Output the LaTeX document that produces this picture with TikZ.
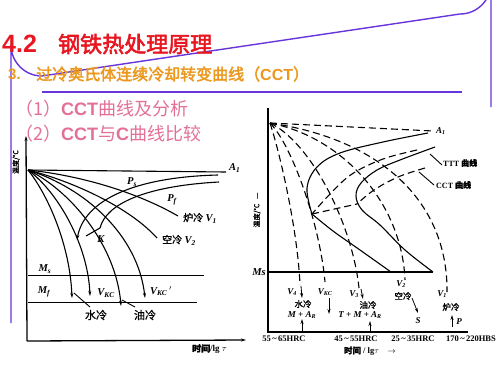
\documentclass[tikz,border=0pt]{standalone}
\usepackage{fontspec}
\setmainfont{Liberation Serif}
\setsansfont{Liberation Sans}
\newfontfamily\cjk{Noto Sans CJK SC}
\newfontfamily\cjkb{Noto Sans CJK SC}[FakeBold=2.5]
\newfontfamily\cjkm{Noto Sans CJK SC}[FakeBold=1.2]
\usetikzlibrary{arrows.meta}
\definecolor{titlered}{RGB}{232,22,32}
\definecolor{suborange}{RGB}{236,152,30}
\definecolor{itempink}{RGB}{228,112,152}
\definecolor{framepurple}{RGB}{104,52,220}
\tikzset{
  frameline/.style={draw=framepurple,line width=1.4pt},
  curve/.style={line width=1.1pt},
  dcurve/.style={line width=1.1pt,dash pattern=on 7pt off 4pt},
  axis/.style={line width=1.3pt},
  lb/.style={font=\fontsize{10.5}{11}\selectfont\bfseries\itshape,inner sep=0pt},
  lbs/.style={font=\fontsize{9}{10}\selectfont\bfseries\itshape,inner sep=0pt},
  cn/.style={font=\cjkm\fontsize{8.5}{9}\selectfont,inner sep=0pt},
  hrc/.style={font=\fontsize{8.5}{9}\selectfont\bfseries,inner sep=0pt},
  tip/.style={-{Stealth[length=5pt,width=3pt]}}
}
\begin{document}
\begin{tikzpicture}[x=1pt,y=-1pt]
\useasboundingbox (0,0) rectangle (500,375);
\fill[white] (0,0) rectangle (500,375);
% frame
\draw[frameline] (11,323) -- (11,45) arc[start angle=180,end angle=90,radius=31] -- (460,14) arc[start angle=90,end angle=0,radius=31] -- (491,107);
% titles
\node[anchor=west,inner sep=0pt,text=titlered,font=\sffamily\bfseries\fontsize{25}{26}\selectfont] (t42) at (2,44) {4.2};
\node[anchor=west,inner sep=0pt,text=titlered,font=\cjkb\fontsize{22}{24}\selectfont] (ttl) at (58,44) {钢铁热处理原理};
\node[anchor=west,inner sep=0pt,text=suborange,font=\sffamily\bfseries\fontsize{15}{16}\selectfont] (s3) at (8,74) {3.};
\node[anchor=west,inner sep=0pt,text=suborange,font=\cjkb\fontsize{16}{17}\selectfont] (sub) at (36,74) {过冷奥氏体连续冷却转变曲线（{\sffamily\bfseries CCT}）};
\coordinate (ul1) at (42,92); \coordinate (ul2) at (462,92);
\draw[frameline] (ul1) -- (ul2);
\node[anchor=west,inner sep=0pt,text=itempink,font=\cjk\fontsize{18}{19}\selectfont] (i1) at (15,109) {（1）{\sffamily\bfseries CCT}曲线及分析};
\node[anchor=west,inner sep=0pt,text=itempink,font=\cjk\fontsize{18}{19}\selectfont] (i2) at (15,134) {（2）{\sffamily\bfseries CCT}与{\sffamily\bfseries C}曲线比较};

% ================= left diagram
\coordinate (LY0) at (27,341); \coordinate (LYt) at (26,136);
\coordinate (LX1) at (246,340);
\draw[axis,tip] (LY0) -- (LYt);
\draw[axis,tip] (LY0) -- (LX1);
\node[rotate=90,inner sep=0pt,font=\cjkm\fontsize{7}{7}\selectfont] (lyl) at (16,162) {温度/℃};
\node[inner sep=0pt,font=\fontsize{9}{9}\selectfont\bfseries,anchor=west] (lxl) at (192,349) {{\cjkm 时间}/lg $\tau$};
\coordinate (O) at (28,170);
\coordinate (A1e) at (226,172);
\draw[curve] (O) -- (A1e);
\node[lb,anchor=west] (lA1) at (229,168) {A\textsubscript{1}};
% cooling curves
\coordinate (v1e) at (178,216);
\coordinate (v2e) at (157,238);
\coordinate (vkcpe) at (145,298);
\coordinate (oile) at (121,306);
\coordinate (vkce) at (90,296);
\coordinate (wate) at (72,298);
\draw[curve] (O) .. controls (85,176) and (140,194) .. (v1e);
\draw[curve] (O) .. controls (75,182) and (130,208) .. (v2e);
\draw[curve,tip] (O) .. controls (85,188) and (138,235) .. (vkcpe);
\draw[curve,tip] (O) .. controls (70,190) and (116,245) .. (oile);
\draw[curve,tip] (O) .. controls (58,192) and (88,245) .. (vkce);
\draw[curve,tip] (O) .. controls (48,195) and (70,245) .. (wate);
% C curves
\coordinate (ps0) at (218,175); \coordinate (ps1) at (77,240);
\coordinate (pf0) at (219,182); \coordinate (pf1) at (100,228);
\draw[curve,tip] (ps0) .. controls (135,177) and (84,200) .. (ps1);
\draw[curve] (pf0) .. controls (145,186) and (106,204) .. (pf1);
\draw[curve] (pf1) -- (86,236);
\node[lb] (lK) at (101,239) {K};
\node[lb] (lPs) at (132,182) {P\textsubscript{s}};
\node[lb] (lPf) at (172,200) {P\textsubscript{f}};
\node[anchor=west,inner sep=0pt] (lV1) at (183,218) {{\cjkm\fontsize{10}{10}\selectfont 炉冷} {\fontsize{10.5}{11}\selectfont\bfseries\itshape V\textsubscript{1}}};
\node[anchor=west,inner sep=0pt] (lV2) at (162,240) {{\cjkm\fontsize{10}{10}\selectfont 空冷} {\fontsize{10.5}{11}\selectfont\bfseries\itshape V\textsubscript{2}}};
% Ms Mf
\coordinate (ms0) at (28,275); \coordinate (ms1) at (204,275);
\coordinate (mf0) at (28,302); \coordinate (mf1) at (197,302);
\draw[line width=0.9pt] (ms0) -- (ms1);
\draw[line width=0.9pt] (mf0) -- (mf1);
\node[lb] (lMs) at (45,269) {M\textsubscript{s}};
\node[lb] (lMf) at (44,292) {M\textsubscript{f}};
\node[lb] (lVkc) at (106,293) {V\textsubscript{KC}};
\node[lb] (lVkcp) at (161,291) {V\textsubscript{KC}\,$'$};
% leaders
\coordinate (wl0) at (74,293); \coordinate (wl1) at (90,307);
\coordinate (ol0) at (122,300); \coordinate (ol1) at (135,307);
\draw[line width=0.9pt] (wl0) -- (wl1);
\draw[line width=0.9pt] (ol0) -- (ol1);
\node[inner sep=0pt,font=\cjkm\fontsize{11}{11}\selectfont] (lwat) at (96,315) {水冷};
\node[inner sep=0pt,font=\cjkm\fontsize{11}{11}\selectfont] (loil) at (145,315) {油冷};

% ================= right diagram
\coordinate (RO) at (268,332);
\coordinate (RYt) at (268,108);
\coordinate (RX1) at (468,332);
\draw[axis] (RYt) -- (RO) -- (RX1);
\node[rotate=90,inner sep=0pt,font=\cjkm\fontsize{7}{7}\selectfont] (ryl) at (257,210) {温度/℃\ \ \ —};
\node[lb,anchor=east] (rMs) at (266,272) {Ms};
\coordinate (rms1) at (433,272);
\draw[axis] (268,272) -- (rms1);
\coordinate (O2) at (270,123);
\coordinate (rA1) at (433,131);
\draw[dcurve] (O2) -- (rA1);
\node[lbs,anchor=west] (rA1l) at (436,131) {A\textsubscript{1}};
% dashed cooling curves
\coordinate (r1e) at (447,292);
\coordinate (r2e) at (405,280);
\coordinate (r3e) at (359,288);
\coordinate (rke) at (325,282);
\coordinate (r4e) at (300,285);
\draw[dcurve] (O2) .. controls (385,140) and (448,205) .. (r1e);
\draw[dcurve] (O2) .. controls (345,138) and (402,205) .. (r2e);
\draw[dcurve] (O2) .. controls (310,142) and (352,222) .. (r3e);
\draw[dcurve] (O2) .. controls (292,145) and (320,225) .. (rke);
\draw[dcurve] (O2) .. controls (282,160) and (298,235) .. (r4e);
% TTT curves (solid)
\draw[curve] plot[smooth,tension=0.6] coordinates {(428,133) (383,142) (340,153) (317,167) (307,188) (312,214)};
\draw[curve] plot[smooth,tension=0.6] coordinates {(312,214) (333,231) (360,250) (391,272)};
\draw[curve] plot[smooth,tension=0.6] coordinates {(435,147) (400,160) (377,170) (361,183) (356,196) (362,210) (380,225) (405,250) (433,272)};
% CCT curves (dashed)
\draw[dcurve] plot[smooth,tension=0.6] coordinates {(417,150) (383,159) (352,174) (330,194) (312,214)};
\draw[dcurve] plot[smooth,tension=0.6] coordinates {(425,168) (398,177) (374,190) (357,204)};
\draw[dcurve] (312,214) -- (357,204);
% curve labels
\coordinate (ttl0) at (430,154); \coordinate (ttl1) at (442,165);
\coordinate (ccl0) at (419,172); \coordinate (ccl1) at (434,185);
\draw[line width=0.9pt] (ttl0) -- (ttl1);
\draw[line width=0.9pt] (ccl0) -- (ccl1);
\node[anchor=west,inner sep=0pt,font=\fontsize{8}{8}\selectfont\bfseries] (tttl) at (443,163) {TTT {\cjkm 曲线}};
\node[anchor=west,inner sep=0pt,font=\fontsize{8}{8}\selectfont\bfseries] (cctl) at (436,185) {CCT {\cjkm 曲线}};
% bottom labels
\node[lbs] (rV4) at (292,292) {V\textsubscript{4}};
\draw[line width=0.8pt,tip] (301,286) -- (302,298);
\node[cn] (rw) at (303,304) {水冷};
\node[lbs] (rw2) at (302,315) {M + A\textsubscript{R}};
\draw[line width=0.8pt,tip] (302,331) -- (302,319);
\node[lbs] (rVkc) at (325,292) {V\textsubscript{KC}};
\draw[line width=0.8pt,tip] (329,298) -- (329,314);
\node[lbs] (rV3) at (354,294) {V\textsubscript{3}};
\draw[line width=0.8pt,tip] (361,289) -- (363,299);
\node[cn] (ro) at (368,305) {油冷};
\node[lbs] (ro2) at (360,315) {T + M + A\textsubscript{R}};
\draw[line width=0.8pt,tip] (370,331) -- (370,321);
\node[lbs] (rV2) at (401,284) {V\textsubscript{2}};
\node[cn] (ra) at (403,296) {空冷};
\draw[line width=0.8pt,tip] (412,298) -- (418,313);
\node[lbs] (rS) at (418,321) {S};
\node[lbs] (rV1) at (442,294) {V\textsubscript{1}};
\node[cn] (rf) at (451,307) {炉冷};
\draw[line width=0.8pt,tip] (452,327) -- (452,315);
\node[lbs] (rP) at (459,322) {P};
\node[hrc] (h1) at (284,339) {55\,\textasciitilde\,65HRC};
\node[hrc] (h2) at (356,339) {45\,\textasciitilde\,55HRC};
\node[hrc] (h3) at (413,339) {25\,\textasciitilde\,35HRC};
\node[hrc] (h4) at (471,339) {170\,\textasciitilde\,220HBS};
\node[inner sep=0pt,font=\fontsize{8.5}{9}\selectfont\bfseries] (rxl) at (370,351) {{\cjkm 时间} / lg$\tau$\quad $\rightarrow$};
\end{tikzpicture}
\end{document}
